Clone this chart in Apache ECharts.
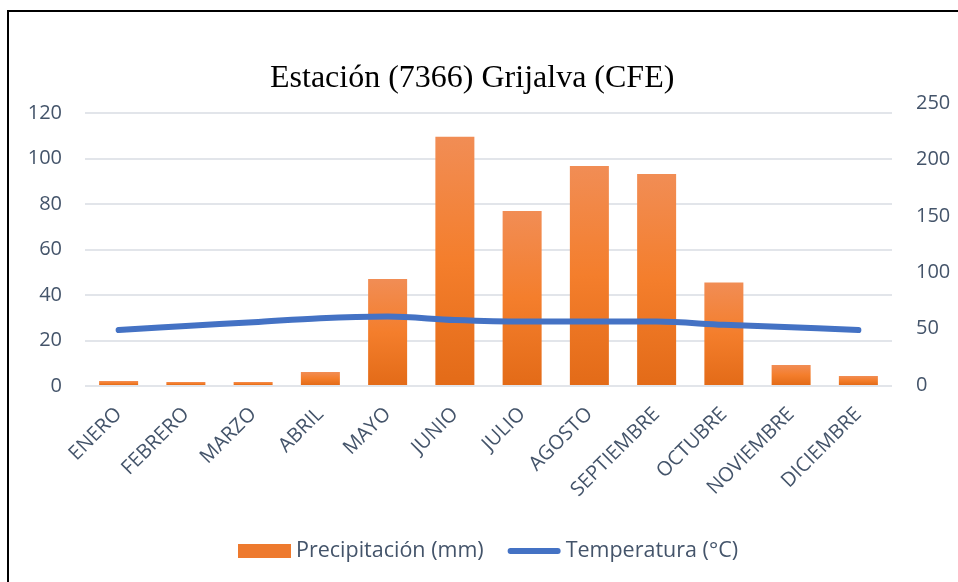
<!DOCTYPE html>
<html>
<head>
<meta charset="utf-8">
<script src="https://cdn.jsdelivr.net/npm/echarts@6/dist/echarts.min.js"></script>
<style>
html,body{margin:0;padding:0;background:#fff;}
#chart{width:958px;height:582px;}
</style>
</head>
<body>
<div id="chart"></div>
<script>
const titleText = 'Estación (7366) Grijalva (CFE)';
const months = ['ENERO','FEBRERO','MARZO','ABRIL','MAYO','JUNIO','JULIO','AGOSTO','SEPTIEMBRE','OCTUBRE','NOVIEMBRE','DICIEMBRE'];
const precipitacion = [3.5, 2.7, 2.7, 11.5, 94.0, 220.1, 154.3, 194.1, 187.1, 90.9, 17.7, 8.0];
const temperatura = [24.6, 26.4, 28.0, 29.8, 30.5, 29.0, 28.3, 28.4, 28.3, 26.9, 25.8, 24.6];
const leftTicks = {min: 0, max: 120, interval: 20};
const rightTicks = {min: 0, max: 250, interval: 50};

const textColor = '#44546A';
const font = 'Open Sans';
const chart = echarts.init(document.getElementById('chart'), null, {renderer: 'canvas'});
chart.setOption({
  backgroundColor: '#ffffff',
  animation: false,
  title: {
    text: titleText,
    left: 265, top: 58,
    textStyle: {fontFamily: 'Liberation Serif', fontWeight: 'normal', fontSize: 32, color: '#000000'}
  },
  graphic: [{
    type: 'rect', silent: true, z: 100,
    shape: {x: 8, y: 11, width: 1000, height: 700},
    style: {fill: 'none', stroke: '#000000', lineWidth: 2}
  }],
  legend: {
    left: 238, top: 540,
    padding: 0,
    itemGap: 24,
    symbolKeepAspect: true,
    textStyle: {fontFamily: font, fontSize: 21.5, color: textColor},
    data: [
      {name: 'Precipitación (mm)', icon: 'rect', itemStyle: {color: '#EE7A2E'}},
      {name: 'Temperatura (°C)', icon: 'path://M3,0 H52 A3,3 0 0 1 52,6 H3 A3,3 0 0 1 3,0 Z', itemStyle: {color: '#4472C4'}}
    ],
    itemWidth: 53, itemHeight: 14
  },
  grid: [
    {left: 85, right: 66, top: 113, bottom: 196},
    {left: 85, right: 66, top: 103, bottom: 197}
  ],
  xAxis: [
    {
      type: 'category', gridIndex: 0, data: months,
      axisLine: {show: false}, axisTick: {show: false},
      axisLabel: {rotate: 45, margin: 25, fontFamily: font, fontSize: 20, color: textColor, interval: 0}
    },
    {
      type: 'category', gridIndex: 1, data: months, show: false
    }
  ],
  yAxis: [
    {
      type: 'value', gridIndex: 0, position: 'left',
      min: leftTicks.min, max: leftTicks.max, interval: leftTicks.interval,
      axisLine: {show: false}, axisTick: {show: false},
      axisLabel: {margin: 23, fontFamily: font, fontSize: 20, color: textColor},
      splitLine: {lineStyle: {color: '#D9DDE3', width: 1.5}}
    },
    {
      type: 'value', gridIndex: 1, position: 'right',
      min: rightTicks.min, max: rightTicks.max, interval: rightTicks.interval,
      axisLine: {show: false}, axisTick: {show: false},
      axisLabel: {margin: 24, fontFamily: font, fontSize: 20, color: textColor},
      splitLine: {show: false}
    }
  ],
  series: [
    {
      name: 'Precipitación (mm)', type: 'bar',
      xAxisIndex: 1, yAxisIndex: 1,
      data: precipitacion,
      barWidth: '58%',
      itemStyle: {
        color: new echarts.graphic.LinearGradient(0, 0, 0, 1, [
          {offset: 0, color: '#F18D55'},
          {offset: 0.5, color: '#F47E2C'},
          {offset: 1, color: '#E36B18'}
        ])
      }
    },
    {
      name: 'Temperatura (°C)', type: 'line',
      xAxisIndex: 0, yAxisIndex: 0,
      data: temperatura,
      smooth: 0.35,
      symbol: 'none',
      z: 5,
      lineStyle: {color: '#4472C4', width: 6, cap: 'round', join: 'round'},
      itemStyle: {color: '#4472C4'}
    }
  ]
});
</script>
</body>
</html>
